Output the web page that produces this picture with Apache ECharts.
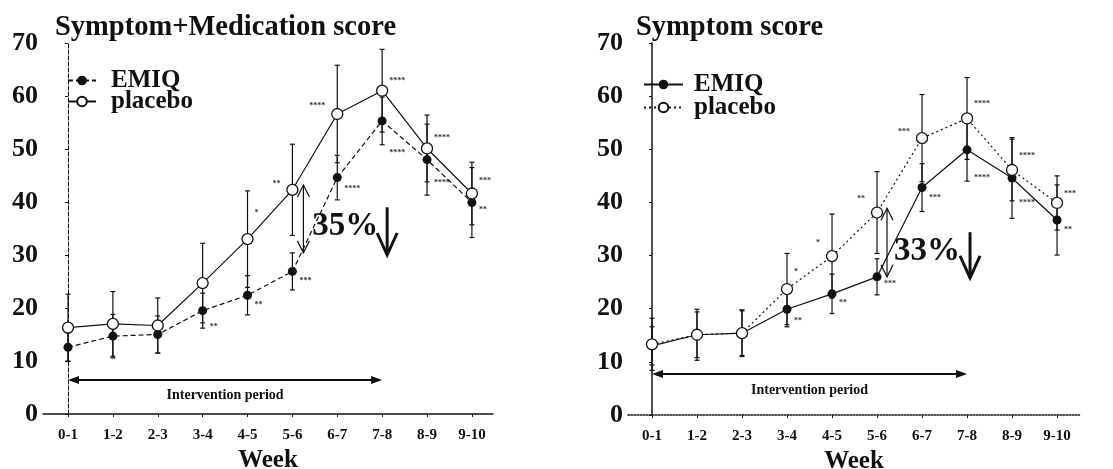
<!DOCTYPE html>
<html>
<head>
<meta charset="utf-8">
<script src="https://cdn.jsdelivr.net/npm/echarts@6/dist/echarts.min.js"></script>
<style>html,body{margin:0;padding:0;background:#fff;}#c{width:1113px;height:469px;}</style>
</head>
<body>
<div id="c"></div>
<script>
// ---------- data ----------
const categories = ['0-1','1-2','2-3','3-4','4-5','5-6','6-7','7-8','8-9','9-10'];
const yTickLabels = ['0','10','20','30','40','50','60','70'];

const leftTitle = 'Symptom+Medication score';
const rightTitle = 'Symptom score';

const leftEmiq      = [12.6, 14.7, 15.0, 19.5, 22.4, 26.9, 44.6, 55.3, 48.0, 39.9];
const leftEmiqSd    = [2.7, 4.1, 3.5, 3.3, 3.7, 3.5, 4.2, 4.5, 6.7, 6.6];
const leftPlacebo   = [16.3, 17.0, 16.7, 24.7, 33.0, 42.3, 56.6, 61.0, 50.1, 41.6];
const leftPlaceboSd = [6.3, 6.1, 5.2, 7.5, 9.1, 8.6, 9.2, 7.8, 6.3, 5.9];

const rightEmiq      = [13.0, 15.1, 15.4, 19.9, 22.8, 26.0, 42.8, 49.9, 44.6, 36.7];
const rightEmiqSd    = [3.6, 4.8, 4.4, 3.3, 3.7, 3.4, 4.5, 5.9, 7.6, 6.6];
const rightPlacebo   = [13.3, 15.1, 15.4, 23.7, 29.9, 38.1, 52.1, 55.8, 46.1, 39.9];
const rightPlaceboSd = [4.9, 4.3, 4.2, 6.7, 7.9, 7.7, 8.2, 7.7, 5.8, 5.1];

// significance marks: [category index, y value, text, side(1 right / -1 left)]
const leftStars = [
  [3,16.4,'**',1],[4,20.6,'**',1],[4,37.9,'*',1],[5,25.1,'***',1],[5,43.4,'**',-1],
  [6,42.5,'****',1],[6,58.1,'****',-1],[7,49.2,'****',1],[7,62.8,'****',1],
  [8,52.1,'****',1],[8,43.6,'****',1],[9,44.0,'***',1],[9,38.5,'**',1]
];
const rightStars = [
  [3,26.9,'*',1],[3,17.7,'**',1],[4,32.4,'*',-1],[4,21.1,'**',1],[5,40.6,'**',-1],
  [5,24.7,'***',1],[6,53.3,'***',-1],[6,40.8,'***',1],[7,58.5,'****',1],[7,44.6,'****',1],
  [8,48.7,'****',1],[8,39.9,'****',1],[9,41.6,'***',1],[9,34.8,'**',1]
];

// annotations
const leftGap = [5, 30.4, 43.2];            // category, from, to (double arrow)
const rightGap = [5, 26.0, 38.9];
const leftPct = [6, 35.3, '35%'];           // category, y, text
const rightPct = [6, 30.7, '33%'];
const leftDown = [7, 39.0, 30.0];           // category, from, to
const rightDown = [7, 34.4, 25.8];
const leftPeriod = [0, 7, 6.4, 3.6, 'Intervention period'];   // from cat, to cat, arrow y, text y
const rightPeriod = [0, 7, 7.7, 4.7, 'Intervention period'];

// ---------- rendering ----------
const SERIF = "'Liberation Serif','Times New Roman',serif";
const INK = '#111';
const chart = echarts.init(document.getElementById('c'), null, {renderer: 'canvas'});

function errRender(params, api) {
  const x = api.value(0), m = api.value(1), s = api.value(2);
  const t = api.coord([x, m + s]), b = api.coord([x, m - s]);
  const w = 2.5;
  const st = {stroke: INK, lineWidth: 1.2};
  return {type: 'group', children: [
    {type: 'line', shape: {x1: t[0], y1: t[1], x2: b[0], y2: b[1]}, style: st},
    {type: 'line', shape: {x1: t[0]-w, y1: t[1], x2: t[0]+w, y2: t[1]}, style: st},
    {type: 'line', shape: {x1: b[0]-w, y1: b[1], x2: b[0]+w, y2: b[1]}, style: st}
  ]};
}
function starRender(list) {
  return function(params, api) {
    const it = list[params.dataIndex];
    const p = api.coord([it[0], it[1]]);
    const right = it[3] > 0;
    return {type: 'text', x: p[0] + (right ? 7 : -12), y: p[1],
      style: {text: it[2], fill: '#333', font: 'bold 8px ' + SERIF,
        align: right ? 'left' : 'right', verticalAlign: 'middle'}};
  };
}
function annotRender(gap, pct, down, period, gapDx, pctDx, downDx) {
  return function(params, api) {
    const children = [];
    const a = api.coord([gap[0], gap[1]]), b = api.coord([gap[0], gap[2]]);
    const gx = a[0] + gapDx;
    const st = {stroke: INK, lineWidth: 1.2, fill: null};
    children.push({type: 'line', shape: {x1: gx, y1: a[1], x2: gx, y2: b[1]}, style: st});
    children.push({type: 'polyline', shape: {points: [[gx-6, b[1]+12],[gx, b[1]],[gx+6, b[1]+12]]}, style: st});
    children.push({type: 'polyline', shape: {points: [[gx-6, a[1]-12],[gx, a[1]],[gx+6, a[1]-12]]}, style: st});
    const pp = api.coord([pct[0], pct[1]]);
    children.push({type: 'text', x: pp[0] + pctDx, y: pp[1],
      style: {text: pct[2], fill: INK, font: 'bold 33px ' + SERIF, align: 'center', verticalAlign: 'middle'}});
    const d1 = api.coord([down[0], down[1]]), d2 = api.coord([down[0], down[2]]);
    const dx = d1[0] + downDx;
    const dst = {stroke: INK, lineWidth: 3, fill: null};
    children.push({type: 'line', shape: {x1: dx, y1: d1[1], x2: dx, y2: d2[1]}, style: dst});
    children.push({type: 'polyline', shape: {points: [[dx-10, d2[1]-22],[dx, d2[1]],[dx+10, d2[1]-22]]}, style: dst});
    const i1 = api.coord([period[0], period[2]]), i2 = api.coord([period[1], period[2]]);
    const ist = {stroke: INK, lineWidth: 2};
    children.push({type: 'line', shape: {x1: i1[0]+6, y1: i1[1], x2: i2[0]-6, y2: i2[1]}, style: ist});
    children.push({type: 'polygon', shape: {points: [[i1[0], i1[1]],[i1[0]+11, i1[1]-4],[i1[0]+11, i1[1]+4]]}, style: {fill: INK}});
    children.push({type: 'polygon', shape: {points: [[i2[0], i2[1]],[i2[0]-11, i2[1]-4],[i2[0]-11, i2[1]+4]]}, style: {fill: INK}});
    const tp = api.coord([(period[0] + period[1]) / 2, period[3]]);
    children.push({type: 'text', x: tp[0], y: tp[1],
      style: {text: period[4], fill: INK, font: 'bold 14px ' + SERIF, align: 'center', verticalAlign: 'middle'}});
    return {type: 'group', children: children};
  };
}

function xAxis(gridIndex, min, max, lineType) {
  return {
    type: 'value', gridIndex: gridIndex, min: min, max: max,
    name: 'Week', nameLocation: 'middle', nameGap: 33,
    nameTextStyle: {fontFamily: SERIF, fontWeight: 'bold', fontSize: 25, color: INK},
    axisLine: {show: true, lineStyle: {color: INK, width: 1.5, type: lineType}},
    axisTick: {show: true, length: 3, customValues: categories.map((c, i) => i), lineStyle: {color: INK}},
    axisLabel: {customValues: categories.map((c, i) => i), formatter: v => categories[Math.round(v)],
      fontFamily: SERIF, fontWeight: 'bold', fontSize: 15, color: INK, margin: 14},
    splitLine: {show: false}
  };
}
function yAxis(gridIndex, lineType, width) {
  return {
    type: 'value', gridIndex: gridIndex, min: 0, max: 70, interval: 10,
    axisLine: {show: true, lineStyle: {color: INK, width: width, type: lineType}},
    axisTick: {show: true, length: 3, lineStyle: {color: INK}},
    axisLabel: {formatter: v => yTickLabels[Math.round(v / 10)], fontFamily: SERIF,
      fontWeight: 'bold', fontSize: 26, color: INK, margin: 5},
    splitLine: {show: false}
  };
}
function lineSeries(name, idx, data, filled, lineType) {
  return {
    type: 'line', name: name, xAxisIndex: idx, yAxisIndex: idx,
    data: data.map((v, i) => [i, v]),
    symbol: 'circle', symbolSize: filled ? 9 : 11,
    itemStyle: filled ? {color: INK} : {color: '#fff', borderColor: INK, borderWidth: 1.3},
    lineStyle: {color: INK, width: 1.2, type: lineType},
    z: 4, animation: false
  };
}
function errSeries(idx, data, sd) {
  return {type: 'custom', xAxisIndex: idx, yAxisIndex: idx, renderItem: errRender,
    data: data.map((v, i) => [i, v, sd[i]]), z: 2, silent: true, animation: false};
}
function starSeries(idx, list) {
  return {type: 'custom', xAxisIndex: idx, yAxisIndex: idx, renderItem: starRender(list),
    data: list.map(s => [s[0], s[1]]), z: 3, silent: true, animation: false};
}
function legend(name, left, top, width, pad) {
  return {data: [name], left: left, top: top, orient: 'vertical', itemWidth: width, itemHeight: 12,
    padding: 0, selectedMode: false, formatter: n => n.split('|')[0],
    textStyle: {fontFamily: SERIF, fontWeight: 'bold', fontSize: 25, color: INK, padding: [0, 0, 0, pad]}};
}

const option = {
  backgroundColor: '#fff',
  animation: false,
  title: [
    {text: leftTitle, left: 50, top: 8, textStyle: {fontFamily: SERIF, fontWeight: 'bold', fontSize: 28.5, color: INK}},
    {text: rightTitle, left: 631, top: 8, textStyle: {fontFamily: SERIF, fontWeight: 'bold', fontSize: 28.5, color: INK}}
  ],
  legend: [
    legend('EMIQ|L', 67, 68, 28, 10),
    legend('placebo|L', 67, 89, 28, 10),
    legend('EMIQ|R', 643, 72, 39, 6),
    legend('placebo|R', 643, 95, 39, 6)
  ],
  grid: [
    {left: 43, top: 43, width: 450, height: 371, outerBoundsMode: 'none', containLabel: false},
    {left: 628, top: 43, width: 452, height: 372, outerBoundsMode: 'none', containLabel: false}
  ],
  xAxis: [xAxis(0, -0.557, 9.47, 'solid'), xAxis(1, -0.533, 9.51, 'dotted')],
  yAxis: [yAxis(0, 'dashed', 1), yAxis(1, 'solid', 1.5)],
  series: [
    errSeries(0, leftPlacebo, leftPlaceboSd),
    errSeries(0, leftEmiq, leftEmiqSd),
    lineSeries('EMIQ|L', 0, leftEmiq, true, [5, 3]),
    lineSeries('placebo|L', 0, leftPlacebo, false, 'solid'),
    starSeries(0, leftStars),
    {type: 'custom', xAxisIndex: 0, yAxisIndex: 0, data: [[leftGap[0], leftGap[1]]], silent: true, z: 5,
      renderItem: annotRender(leftGap, leftPct, leftDown, leftPeriod, 11, 8, 5)},

    errSeries(1, rightPlacebo, rightPlaceboSd),
    errSeries(1, rightEmiq, rightEmiqSd),
    lineSeries('EMIQ|R', 1, rightEmiq, true, 'solid'),
    lineSeries('placebo|R', 1, rightPlacebo, false, [2, 3]),
    starSeries(1, rightStars),
    {type: 'custom', xAxisIndex: 1, yAxisIndex: 1, data: [[rightGap[0], rightGap[1]]], silent: true, z: 5,
      renderItem: annotRender(rightGap, rightPct, rightDown, rightPeriod, 10, 5, 3)}
  ]
};
chart.setOption(option);
</script>
</body>
</html>
